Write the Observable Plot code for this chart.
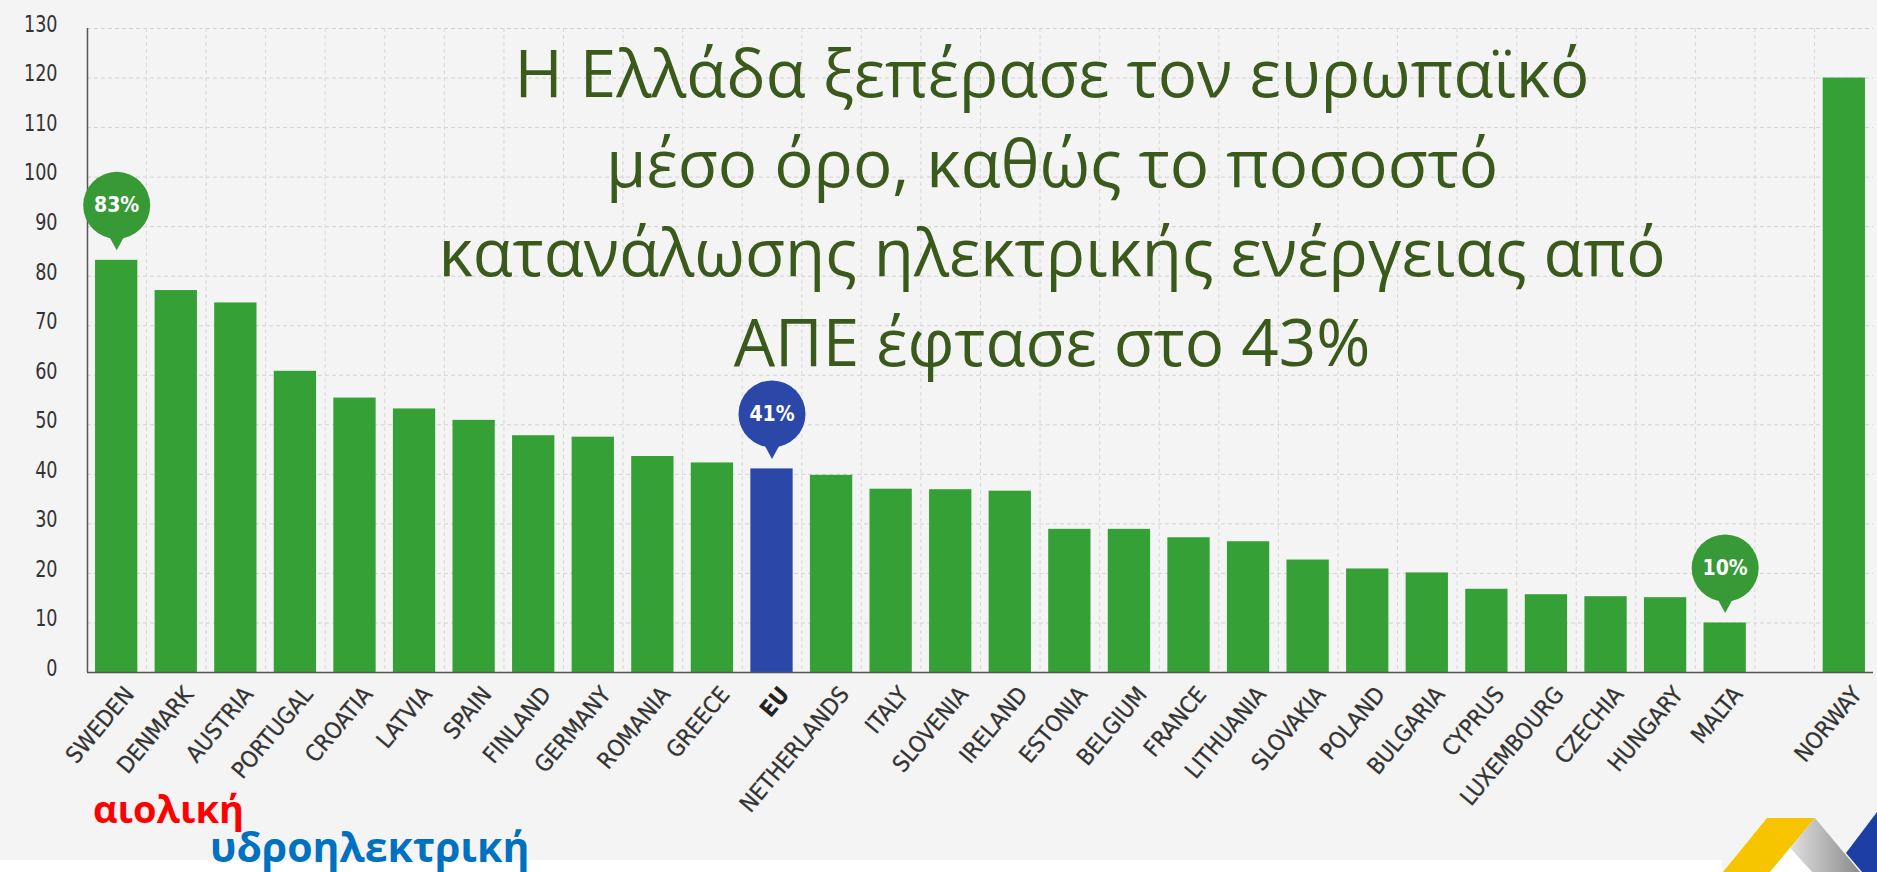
<!DOCTYPE html>
<html>
<head>
<meta charset="utf-8">
<script src="https://cdn.jsdelivr.net/npm/d3@7"></script>
<script src="https://cdn.jsdelivr.net/npm/@observablehq/plot@0.6"></script>
<style>
  html, body { margin: 0; padding: 0; background: #f4f4f4; }
  #wrap { position: relative; width: 1877px; height: 872px; overflow: hidden; background: #f4f4f4; }
  #chart { position: absolute; left: 0; top: 0; }
  #overlay { position: absolute; left: 0; top: 0; pointer-events: none; }
</style>
</head>
<body>
<div id="wrap">
  <div id="chart"></div>
  <svg id="overlay" width="1877" height="872"></svg>
</div>
<script>
// ---- data ----
const countries = ["SWEDEN","DENMARK","AUSTRIA","PORTUGAL","CROATIA","LATVIA","SPAIN","FINLAND","GERMANY","ROMANIA","GREECE","EU","NETHERLANDS","ITALY","SLOVENIA","IRELAND","ESTONIA","BELGIUM","FRANCE","LITHUANIA","SLOVAKIA","POLAND","BULGARIA","CYPRUS","LUXEMBOURG","CZECHIA","HUNGARY","MALTA","NORWAY"];
const shares = [83.2,77.1,74.6,60.8,55.4,53.2,50.9,47.8,47.5,43.6,42.3,41.1,39.8,37.0,36.9,36.6,28.9,28.9,27.2,26.4,22.7,20.9,20.1,16.8,15.7,15.3,15.1,10.0,120.0];
const yTicks = [0,10,20,30,40,50,60,70,80,90,100,110,120,130];
const average = "EU";
const nonMember = "NORWAY";
const calloutCountries = ["SWEDEN","EU","MALTA"];
const titleLines = [
  "Η Ελλάδα ξεπέρασε τον ευρωπαϊκό",
  "μέσο όρο, καθώς το ποσοστό",
  "κατανάλωσης ηλεκτρικής ενέργειας από",
  "ΑΠΕ έφτασε στο 43%"
];
const brandLines = ["αιολική", "υδροηλεκτρική"];

// ---- styles ----
const GREEN = "#34a035";
const BUBBLE_GREEN = "#379a37";
const BLUE = "#2b48a8";
const W = 1877, H = 872;
const mL = 87, mR = 4, mT = 28, mB = 200;
const pInner = 0.29, pOuter = 0.135;

const data = countries.map((c, i) => ({country: c, value: shares[i]}));
const gap = " ";
const domain = [];
countries.forEach(c => { if (c === nonMember) domain.push(gap); domain.push(c); });

const step = (W - mL - mR) / (domain.length - pInner + 2 * pOuter);
const bw = step * (1 - pInner);

const callouts = data.filter(d => calloutCountries.includes(d.country));
const labelFont = "'DejaVu Sans Condensed','DejaVu Sans',sans-serif";

const chart = Plot.plot({
  width: W, height: H,
  marginLeft: mL, marginRight: mR, marginTop: mT, marginBottom: mB,
  style: {background: "transparent", fontFamily: labelFont},
  x: {domain, paddingInner: pInner, paddingOuter: pOuter, round: false, axis: null},
  y: {domain: [0, 130], axis: null, label: null},
  marks: [
    Plot.gridY(yTicks, {stroke: "#d2d2d2", strokeOpacity: 1, strokeDasharray: "4,3"}),
    Plot.ruleX(domain.slice(0, -1), {x: d => d, dx: step / 2, stroke: "#d8d8d8", strokeDasharray: "4,3"}),
    Plot.axisY(yTicks, {tickSize: 0, tickPadding: 30, fontSize: 23, fill: "#333", dy: -4, label: null, fontFamily: labelFont}),
    Plot.barY(data.filter(d => d.country !== average), {x: "country", y: "value", fill: GREEN}),
    Plot.barY(data.filter(d => d.country === average), {x: "country", y: "value", fill: BLUE}),
    Plot.ruleY([0], {stroke: "#555", strokeWidth: 1.5}),
    Plot.ruleX([domain[0]], {x: d => d, dx: -(step * pOuter + bw / 2), y1: 0, y2: 130, stroke: "#555", strokeWidth: 1.5}),
    Plot.text(countries.filter(c => c !== average), {x: d => d, frameAnchor: "bottom", rotate: -50, textAnchor: "end", lineAnchor: "top", dx: 6, dy: 12, fontSize: 23, fill: "#333", stroke: "#333", strokeWidth: 0.3, fontFamily: labelFont}),
    Plot.text([average], {x: d => d, frameAnchor: "bottom", rotate: -50, textAnchor: "end", lineAnchor: "top", dx: 6, dy: 12, fontSize: 23, fontWeight: "bold", fill: "#222", fontFamily: labelFont}),
    Plot.vector(callouts, {x: "country", y: "value", length: 22, r: 12, rotate: 180, shape: "spike", anchor: "end", dy: -10,
      fill: d => d.country === average ? BLUE : BUBBLE_GREEN, stroke: "none"}),
    Plot.dot(callouts, {x: "country", y: "value", r: 33.5, dy: -55,
      fill: d => d.country === average ? BLUE : BUBBLE_GREEN, stroke: "none"}),
    Plot.text(callouts, {x: "country", y: "value", dy: -55, text: d => Math.round(d.value) + "%",
      fill: "white", fontSize: 21, fontWeight: "bold", fontFamily: labelFont})
  ],
  color: {type: "identity"}
});
// condense the y tick labels a little (reference uses a condensed face)
chart.querySelectorAll('g[aria-label="y-axis tick label"] text').forEach(el => {
  const tr = el.getAttribute("transform") || "";
  el.setAttribute("transform", tr + " scale(0.85,1)");
});
document.getElementById("chart").appendChild(chart);

// ---- overlay: title, brand words, logo ----
const ov = d3.select("#overlay");
ov.append("rect").attr("x", 0).attr("y", 860).attr("width", 1722).attr("height", 12).attr("fill", "#ffffff");
const t = ov.append("text").attr("text-anchor", "middle")
  .attr("font-family", "'Open Sans', sans-serif").attr("font-size", 65.5).attr("fill", "#3a5a1c");
titleLines.forEach((line, i) => t.append("tspan").attr("x", 1052).attr("y", 97 + i * 89.5).text(line));
ov.append("text").attr("x", 93).attr("y", 823).attr("font-family", "'Open Sans', sans-serif")
  .attr("font-weight", "bold").attr("font-size", 38).attr("fill", "#ff0000").text(brandLines[0]);
ov.append("text").attr("x", 210).attr("y", 862).attr("font-family", "'Open Sans', sans-serif")
  .attr("font-weight", "bold").attr("font-size", 41).attr("fill", "#0070c0").text(brandLines[1]);
// logo fragments
const defs = ov.append("defs");
const g = defs.append("linearGradient").attr("id", "gr").attr("x1", "0").attr("x2", "1");
g.append("stop").attr("offset", "0").attr("stop-color", "#e0e0e0");
g.append("stop").attr("offset", "1").attr("stop-color", "#8a8a8a");
ov.append("polygon").attr("points", "1723,872 1767,818 1815,818 1790,848 1770,872").attr("fill", "#f6c500");
ov.append("polygon").attr("points", "1790,848 1815,818 1860,872 1812,872").attr("fill", "url(#gr)");
ov.append("polygon").attr("points", "1790,848 1812,872 1770,872").attr("fill", "#ffffff");
ov.append("polygon").attr("points", "1846,853 1877,812 1877,872 1862,872").attr("fill", "#1d3fa5");
</script>
</body>
</html>
